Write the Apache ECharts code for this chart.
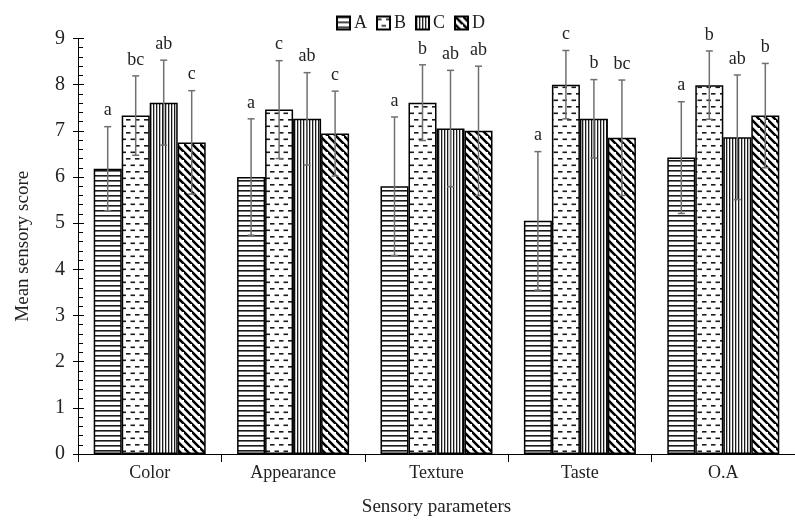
<!DOCTYPE html>
<html>
<head>
<meta charset="utf-8">
<script src="https://cdn.jsdelivr.net/npm/echarts@6/dist/echarts.min.js"></script>
<style>html,body{margin:0;padding:0;background:#fff;}#chart{width:795px;height:525px;}</style>
</head>
<body>
<div id="chart"></div>
<script>
// ---- data ----
const categories = ['Color', 'Appearance', 'Texture', 'Taste', 'O.A'];
const seriesNames = ['A', 'B', 'C', 'D'];
const meanA = [6.18, 6.00, 5.80, 5.05, 6.42];
const meanB = [7.33, 7.46, 7.61, 8.00, 7.99];
const meanC = [7.61, 7.26, 7.05, 7.26, 6.86];
const meanD = [6.75, 6.94, 7.00, 6.85, 7.33];
const errA = [0.91, 1.26, 1.50, 1.50, 1.21];
const errB = [0.86, 1.06, 0.82, 0.74, 0.74];
const errC = [0.92, 1.00, 1.26, 0.85, 1.35];
const errD = [1.12, 0.92, 1.40, 1.25, 1.13];
const lettersA = ['a', 'a', 'a', 'a', 'a'];
const lettersB = ['bc', 'c', 'b', 'c', 'b'];
const lettersC = ['ab', 'ab', 'ab', 'b', 'ab'];
const lettersD = ['c', 'c', 'ab', 'bc', 'b'];
const yTicks = [0, 1, 2, 3, 4, 5, 6, 7, 8, 9];

const means = [meanA, meanB, meanC, meanD];
const errs = [errA, errB, errC, errD];
const letters = [lettersA, lettersB, lettersC, lettersD];

// ---- patterns ----
function makePattern(kind) {
  const c = document.createElement('canvas');
  let w, h;
  if (kind === 'A') { w = 8; h = 5; }
  else if (kind === 'B') { w = 9; h = 13; }
  else if (kind === 'C') { w = 3; h = 8; }
  else { w = 8; h = 8; }
  c.width = w; c.height = h;
  const ctx = c.getContext('2d');
  ctx.fillStyle = '#fff';
  ctx.fillRect(0, 0, w, h);
  ctx.fillStyle = '#1a1a1a';
  if (kind === 'A') {
    ctx.fillRect(0, 0, w, 1.6);
  } else if (kind === 'B') {
    ctx.fillRect(0, 2, 4.5, 1.6);
    ctx.fillRect(4.5, 8.5, 4.5, 1.6);
  } else if (kind === 'C') {
    ctx.fillRect(0, 0, 1.3, h);
  } else {
    ctx.strokeStyle = '#000';
    ctx.lineWidth = 2.6;
    ctx.beginPath();
    ctx.moveTo(-2, -2); ctx.lineTo(w + 2, h + 2);
    ctx.moveTo(-2 - w, -2); ctx.lineTo(2, h + 2);
    ctx.moveTo(w - 2, -2 - h); ctx.lineTo(w + w + 2, h + 2 - h);
    ctx.stroke();
  }
  return { image: c, repeat: 'repeat' };
}

const barWidth = 28;
const FONT = '"Liberation Serif", "Times New Roman", serif';

const series = [];
seriesNames.forEach(function (name, i) {
  series.push({
    name: name,
    type: 'bar',
    data: means[i],
    barWidth: barWidth,
    barGap: '0%',
    itemStyle: { color: makePattern(name), borderColor: '#000', borderWidth: 1.5 },
    z: 2
  });
});
seriesNames.forEach(function (name, i) {
  const offset = (i - 1.5) * barWidth;
  series.push({
    type: 'custom',
    name: name + '_err',
    z: 5,
    silent: true,
    data: categories.map(function (c, k) { return [k, means[i][k], errs[i][k]]; }),
    encode: { x: 0, y: 1 },
    renderItem: function (params, api) {
      const k = api.value(0);
      const m = api.value(1);
      const e = api.value(2);
      const lt = letters[i][k];
      const x = api.coord([k, 0])[0] + offset;
      const yT = api.coord([k, m + e])[1];
      const yB = api.coord([k, m - e])[1];
      const st = { stroke: '#707070', lineWidth: 1.5 };
      return {
        type: 'group',
        children: [
          { type: 'line', shape: { x1: x, y1: yT, x2: x, y2: yB }, style: st },
          { type: 'line', shape: { x1: x - 3.5, y1: yT, x2: x + 3.5, y2: yT }, style: st },
          { type: 'line', shape: { x1: x - 3.5, y1: yB, x2: x + 3.5, y2: yB }, style: st },
          { type: 'text', x: x, y: yT - 7, style: { text: lt, font: '18px ' + FONT, fill: '#222', align: 'center', verticalAlign: 'bottom' } }
        ]
      };
    }
  });
});

const chart = echarts.init(document.getElementById('chart'), null, { renderer: 'canvas' });
chart.setOption({
  animation: false,
  backgroundColor: '#fff',
  textStyle: { fontFamily: FONT },
  legend: {
    data: seriesNames.map(function (n) { return { name: n, icon: 'rect' }; }),
    left: 331,
    top: 9,
    itemWidth: 13,
    itemHeight: 13,
    itemGap: 9,
    textStyle: { fontSize: 18, color: '#222', fontFamily: FONT, padding: [0, 0, 0, -1] }
  },
  grid: { left: 78, right: -10, top: 38.5, bottom: 71, containLabel: false },
  xAxis: {
    type: 'category',
    data: categories,
    axisLine: { lineStyle: { color: '#000', width: 1 } },
    axisTick: { show: true, length: 8, lineStyle: { color: '#000' } },
    axisLabel: { fontSize: 18, color: '#222', margin: 10, fontFamily: FONT },
    name: 'Sensory parameters',
    nameLocation: 'middle',
    nameGap: 44,
    nameTextStyle: { fontSize: 19, color: '#222', fontFamily: FONT },
    splitLine: { show: false }
  },
  yAxis: [{
    type: 'value',
    min: yTicks[0],
    max: yTicks[yTicks.length - 1],
    interval: 1,
    axisLine: { show: true, lineStyle: { color: '#000', width: 1 } },
    axisTick: { show: true, inside: true, length: 6, lineStyle: { color: '#000' } },
    minorTick: { show: true, splitNumber: 5, length: 5, lineStyle: { color: '#000' } },
    axisLabel: { fontSize: 20, color: '#222', margin: 13, fontFamily: FONT },
    splitLine: { show: false },
    name: 'Mean sensory score',
    nameLocation: 'middle',
    nameGap: 45,
    nameRotate: 90,
    nameTextStyle: { fontSize: 19, color: '#222', fontFamily: FONT }
  }, {
    type: 'value',
    position: 'left',
    offset: 0,
    min: yTicks[0],
    max: yTicks[yTicks.length - 1],
    interval: 1,
    axisLine: { show: false },
    axisTick: { show: true, inside: false, length: 5, lineStyle: { color: '#000' } },
    axisLabel: { show: false },
    splitLine: { show: false }
  }],
  series: series
});
</script>
</body>
</html>
